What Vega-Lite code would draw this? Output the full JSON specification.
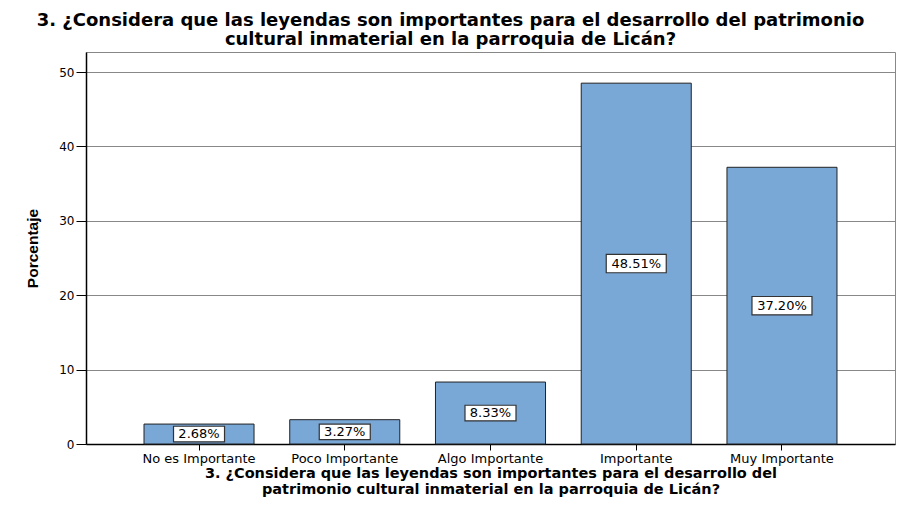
{
  "$schema": "https://vega.github.io/schema/vega-lite/v6.json",
  "width": 809,
  "height": 392,
  "autosize": "none",
  "padding": {"left": 86, "top": 52, "right": 5, "bottom": 63},
  "background": "white",
  "title": {
    "text": ["3. ¿Considera que las leyendas son importantes para el desarrollo del patrimonio", "cultural inmaterial en la parroquia de Licán?"],
    "font": "DejaVu Sans",
    "fontSize": 18,
    "fontWeight": "bold",
    "color": "black",
    "anchor": "middle",
    "frame": "group",
    "dx": -40,
    "offset": 3,
    "lineHeight": 19
  },
  "data": {
    "values": [
      {"category": "No es Importante", "value": 2.68, "label": "2.68%"},
      {"category": "Poco Importante", "value": 3.27, "label": "3.27%"},
      {"category": "Algo Importante", "value": 8.33, "label": "8.33%"},
      {"category": "Importante", "value": 48.51, "label": "48.51%"},
      {"category": "Muy Importante", "value": 37.20, "label": "37.20%"}
    ]
  },
  "config": {
    "view": {"stroke": "#888888", "strokeWidth": 1},
    "axis": {"labelFont": "DejaVu Sans", "labelColor": "black", "tickColor": "black", "domainColor": "black"}
  },
  "encoding": {
    "x": {
      "field": "category",
      "type": "nominal",
      "sort": null,
      "scale": {"paddingInner": 0.245, "paddingOuter": 0.398},
      "axis": {
        "title": ["3. ¿Considera que las leyendas son importantes para el desarrollo del", "patrimonio cultural inmaterial en la parroquia de Licán?"],
        "titleFont": "DejaVu Sans",
        "titleFontSize": 14.5,
        "titleFontWeight": "bold",
        "titleColor": "black",
        "titleLineHeight": 16,
        "titlePadding": 1,
        "labelAngle": 0,
        "labelFontSize": 13,
        "labelPadding": 2,
        "tickSize": 6,
        "domainWidth": 1.5
      }
    }
  },
  "layer": [
    {
      "mark": {"type": "bar", "color": "#79a7d6", "stroke": "#222222", "strokeWidth": 1},
      "encoding": {
        "y": {
          "field": "value",
          "type": "quantitative",
          "scale": {"domain": [0, 52.7], "nice": false},
          "axis": {
            "title": "Porcentaje",
            "titleFont": "Liberation Sans",
            "titleFontSize": 15.5,
            "titleFontWeight": "bold",
            "titleColor": "black",
            "titlePadding": 18,
            "values": [0, 10, 20, 30, 40, 50],
            "labelFontSize": 12,
            "labelPadding": 2,
            "tickSize": 10,
            "grid": true,
            "gridColor": "#888888",
            "gridWidth": 1.2,
            "gridOpacity": 1,
            "domainWidth": 1.5
          }
        }
      }
    },
    {
      "mark": {"type": "point", "shape": "M-1,-0.305L1,-0.305L1,0.305L-1,0.305Z", "filled": true, "fill": "white", "stroke": "#333333", "strokeWidth": 1.2, "opacity": 1},
      "encoding": {
        "y": {"field": "value", "type": "quantitative", "scale": {"domain": [0, 105.4], "nice": false}, "axis": null},
        "size": {"condition": {"test": "datum.value >= 10", "value": 3600}, "value": 2601}
      }
    },
    {
      "mark": {"type": "text", "font": "DejaVu Sans", "fontSize": 13, "color": "black", "baseline": "middle", "align": "center"},
      "encoding": {
        "y": {"field": "value", "type": "quantitative", "scale": {"domain": [0, 105.4], "nice": false}, "axis": null},
        "text": {"field": "label"}
      }
    }
  ],
  "resolve": {"scale": {"y": "independent"}}
}
